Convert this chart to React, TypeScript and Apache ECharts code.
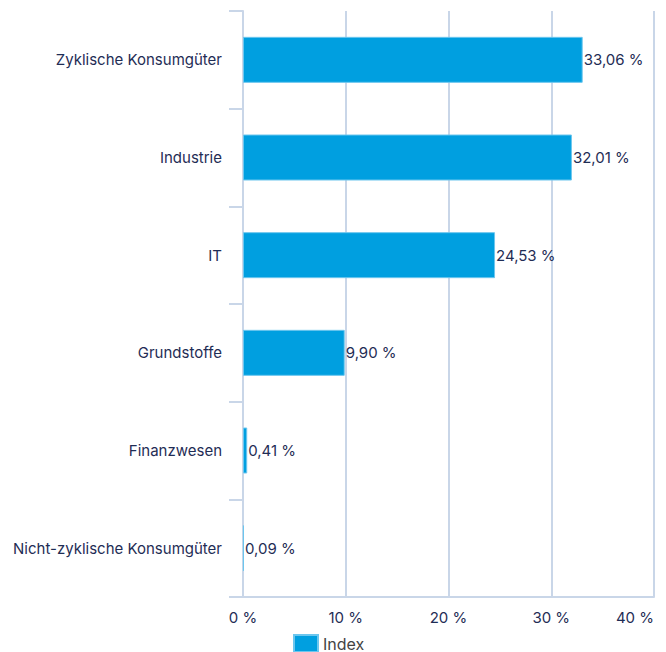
import React, { useEffect, useRef } from "react";
import * as echarts from "echarts";

const categories = [
  "Zyklische Konsumgüter",
  "Industrie",
  "IT",
  "Grundstoffe",
  "Finanzwesen",
  "Nicht-zyklische Konsumgüter",
];
const indexValues = [33.06, 32.01, 24.53, 9.9, 0.41, 0.09];
const seriesName = "Index";

const fmt = (v: number) => v.toFixed(2).replace(".", ",") + " %";

export default function App() {
  const ref = useRef<HTMLDivElement>(null);
  useEffect(() => {
    const chart = echarts.init(ref.current!, undefined, { renderer: "svg" });
    const font = "Inter, Liberation Sans, Arial, sans-serif";
    const axisColor = "#c9d6e8";
    chart.setOption({
      animation: false,
      textStyle: { fontFamily: font },
      grid: { left: 243, right: 12, top: 11, bottom: 55, containLabel: false },
      legend: {
        data: [seriesName],
        left: 293,
        top: 634,
        itemWidth: 24,
        itemHeight: 17,
        itemGap: 7,
        icon: "rect",
        padding: 0,
        textStyle: { color: "#444", fontSize: 16, fontFamily: font },
      },
      xAxis: {
        type: "value",
        min: 0,
        max: 40,
        interval: 10,
        axisLine: { show: true, lineStyle: { color: axisColor, width: 2 } },
        axisTick: { show: false },
        splitLine: { show: true, lineStyle: { color: axisColor, width: 2 } },
        axisLabel: {
          color: "#1f2d55",
          fontSize: 15,
          margin: 13,
          alignMaxLabel: "right",
          formatter: (v: number) => v + " %",
        },
      },
      yAxis: {
        type: "category",
        data: categories,
        inverse: true,
        axisLine: { show: true, lineStyle: { color: axisColor, width: 2 } },
        axisTick: {
          show: true,
          alignWithLabel: false,
          length: 14,
          lineStyle: { color: axisColor, width: 2 },
        },
        splitLine: { show: false },
        axisLabel: { color: "#1f2d55", fontSize: 15, margin: 21 },
      },
      series: [
        {
          name: seriesName,
          type: "bar",
          data: indexValues,
          barWidth: 46,
          itemStyle: { color: "#009fe0", borderColor: "#6cc6ee", borderWidth: 1 },
          label: {
            show: true,
            position: "right",
            distance: 1,
            color: "#1f2d55",
            fontSize: 15,
            formatter: (p: any) => fmt(p.value),
          },
        },
      ],
    });
    return () => chart.dispose();
  }, []);
  return <div ref={ref} style={{ width: 666, height: 652, position: "absolute", left: 0, top: 0 }} />;
}
